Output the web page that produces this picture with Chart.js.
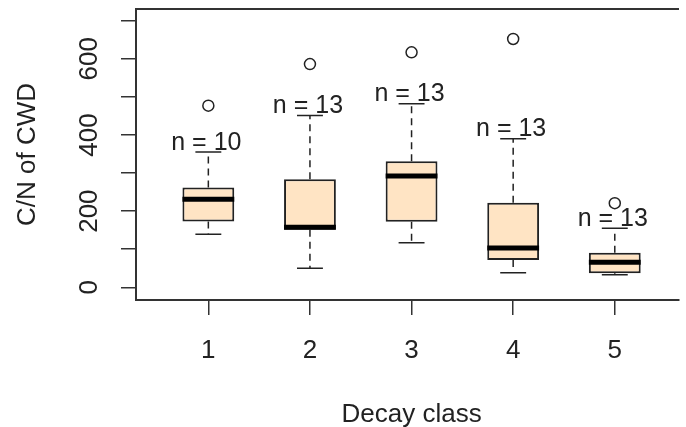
<!DOCTYPE html>
<html>
<head>
<meta charset="utf-8">
<script src="https://cdn.jsdelivr.net/npm/chart.js@4.4.0/dist/chart.umd.min.js"></script>
<style>
    html, body { margin: 0; padding: 0; background: #fff; overflow: hidden; }
    canvas { display: block; }
</style>
</head>
<body>
<canvas id="chartCN" width="686" height="427"></canvas>
<script>
/* --- datos --------------------------------------------------------------- */
const clases = [1, 2, 3, 4, 5];
const bigoteInf = [139, 50, 117, 38, 33];
const q1 = [173, 151, 172, 72, 37];
const mediana = [231, 158, 292, 103, 66];
const q3 = [262, 284, 331, 222, 91];
const bigoteSup = [355, 451, 482, 390, 155];
const atipicos = [477, 586, 617, 652, 221];
const nMuestras = [10, 13, 13, 13, 13];
const etiquetasY = [0, 200, 400, 600];

const FUENTE = '"Liberation Sans", Arial, sans-serif';
const TINTA = '#222';

/* --- plugin: bigotes, medianas, textos ----------------------------------- */
const boxplotPlugin = {
    id: 'boxplot',
    beforeDraw(chart) {
        const ctx = chart.ctx;
        ctx.save();
        ctx.fillStyle = '#fff';
        ctx.fillRect(0, 0, chart.width, chart.height);
        ctx.restore();
    },
    beforeDatasetsDraw(chart) {
        const ctx = chart.ctx;
        const y = chart.scales.y;
        const cajas = chart.getDatasetMeta(0).data;
        ctx.save();
        ctx.strokeStyle = TINTA;
        ctx.lineWidth = 1.5;
        cajas.forEach((b, i) => {
            const x = b.x;
            const media = b.width / 4;
            // lineas punteadas
            ctx.setLineDash([7, 5]);
            ctx.beginPath();
            ctx.moveTo(x, y.getPixelForValue(q3[i]));
            ctx.lineTo(x, y.getPixelForValue(bigoteSup[i]));
            ctx.moveTo(x, y.getPixelForValue(q1[i]));
            ctx.lineTo(x, y.getPixelForValue(bigoteInf[i]));
            ctx.stroke();
            // topes
            ctx.setLineDash([]);
            ctx.beginPath();
            ctx.moveTo(x - media, y.getPixelForValue(bigoteSup[i]));
            ctx.lineTo(x + media, y.getPixelForValue(bigoteSup[i]));
            ctx.moveTo(x - media, y.getPixelForValue(bigoteInf[i]));
            ctx.lineTo(x + media, y.getPixelForValue(bigoteInf[i]));
            ctx.stroke();
        });
        ctx.restore();
    },
    afterDatasetsDraw(chart) {
        const ctx = chart.ctx;
        const y = chart.scales.y;
        const cajas = chart.getDatasetMeta(0).data;
        ctx.save();
        ctx.strokeStyle = '#000';
        ctx.lineWidth = 5;
        ctx.lineCap = 'butt';
        cajas.forEach((b, i) => {
            const py = y.getPixelForValue(mediana[i]);
            ctx.beginPath();
            ctx.moveTo(b.x - b.width / 2, py);
            ctx.lineTo(b.x + b.width / 2, py);
            ctx.stroke();
        });
        ctx.fillStyle = TINTA;
        ctx.font = '25px ' + FUENTE;
        ctx.textAlign = 'center';
        ctx.textBaseline = 'alphabetic';
        cajas.forEach((b, i) => {
            ctx.fillText('n = ' + nMuestras[i], b.x - 2, y.getPixelForValue(bigoteSup[i]) - 2.3);
        });
        ctx.restore();
    },
    afterDraw(chart) {
        const ctx = chart.ctx;
        const area = chart.chartArea;
        const xs = chart.scales.x;
        const ys = chart.scales.y;
        ctx.save();
        // borde superior de la caja
        ctx.strokeStyle = '#333';
        ctx.lineWidth = 2;
        ctx.beginPath();
        ctx.moveTo(area.left - 1, area.top);
        ctx.lineTo(area.right, area.top);
        ctx.stroke();

        ctx.fillStyle = TINTA;
        ctx.font = '26px ' + FUENTE;
        ctx.textAlign = 'center';
        ctx.textBaseline = 'alphabetic';
        clases.forEach(c => {
            ctx.fillText(String(c), xs.getPixelForValue(c), area.bottom + 58);
        });
        ctx.fillText('Decay class', xs.getPixelForValue(3), area.bottom + 122);

        etiquetasY.forEach(v => {
            ctx.save();
            ctx.translate(area.left - 38.7, ys.getPixelForValue(v));
            ctx.rotate(-Math.PI / 2);
            ctx.fillText(String(v), 0, 0);
            ctx.restore();
        });
        ctx.save();
        ctx.translate(35, (area.top + area.bottom) / 2);
        ctx.rotate(-Math.PI / 2);
        ctx.fillText('C/N of CWD', 0, 0);
        ctx.restore();
        ctx.restore();
    }
};

/* --- grafico -------------------------------------------------------------- */
new Chart(document.getElementById('chartCN'), {
    type: 'bar',
    data: {
        datasets: [
            {
                type: 'bar',
                data: clases.map((c, i) => ({ x: c, y: [q1[i], q3[i]] })),
                backgroundColor: '#FFE4C4',
                borderColor: TINTA,
                borderWidth: 2,
                borderSkipped: false,
                categoryPercentage: 1,
                barPercentage: 0.51
            },
            {
                type: 'scatter',
                data: clases.map((c, i) => ({ x: c, y: atipicos[i] })),
                pointStyle: 'circle',
                pointRadius: 5.5,
                pointBackgroundColor: 'rgba(0,0,0,0)',
                pointBorderColor: TINTA,
                pointBorderWidth: 1.5
            }
        ]
    },
    options: {
        responsive: false,
        animation: false,
        events: [],
        layout: { padding: { top: 9, right: 0, left: 0, bottom: 0 } },
        plugins: {
            legend: { display: false },
            tooltip: { enabled: false }
        },
        scales: {
            x: {
                type: 'linear',
                min: 0.288,
                max: 5.632,
                offset: false,
                afterFit(s) { s.height = 127; },
                ticks: { display: false, stepSize: 1, includeBounds: false },
                grid: { offset: false, drawOnChartArea: false, drawTicks: true, tickLength: 15, color: '#333', lineWidth: 1.5 },
                border: { display: true, color: '#333', width: 2 }
            },
            y: {
                type: 'linear',
                min: -33.3,
                max: 730.7,
                beginAtZero: false,
                afterFit(s) { s.width = 136; },
                ticks: { display: false, stepSize: 100, includeBounds: false },
                grid: { drawOnChartArea: false, drawTicks: true, tickLength: 15, color: '#333', lineWidth: 1.5 },
                border: { display: true, color: '#333', width: 2 }
            }
        }
    },
    plugins: [boxplotPlugin]
});
</script>
</body>
</html>
